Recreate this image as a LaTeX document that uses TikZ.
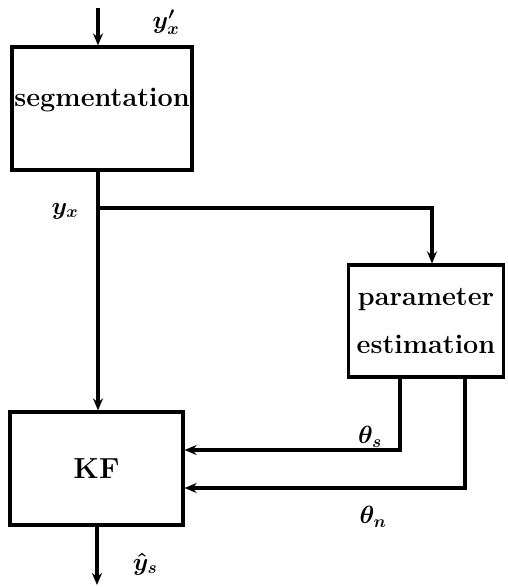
\documentclass[tikz,border=0pt]{standalone}
\usepackage{bm}
\usetikzlibrary{arrows.meta}
\begin{document}
\begin{tikzpicture}[x=1pt,y=-1pt,
  blk/.style={draw,line width=3.2pt,inner sep=0pt,font=\fontsize{27}{48}\selectfont\bfseries,align=center},
  wire/.style={line width=3.2pt},
  arr/.style={wire,-{Stealth[length=12pt,width=10pt]}},
  lbl/.style={font=\fontsize{25}{28}\selectfont,inner sep=0pt}]
\useasboundingbox (0,0) rectangle (507,587);
\node[blk,minimum width=180pt,minimum height=123pt] (seg) at (102,108.5) {};
\node[blk,draw=none] (segt) at (102,100) {segmentation};
\node[blk,minimum width=155pt,minimum height=112pt] (param) at (426,321) {parameter\\estimation};
\node[blk,minimum width=173pt,minimum height=113pt,font=\fontsize{29}{34}\selectfont\bfseries] (kf) at (96.5,468.5) {KF};
\coordinate (in) at (98,8);
\coordinate (out) at (97,585);
\coordinate (br) at (98,208);
\coordinate (brc) at (432,208);
\coordinate (ts) at (400,450);
\coordinate (tn) at (465,488);
\draw[arr] (in) -- (in |- seg.north);
\draw[arr] (br |- seg.south) -- (br |- kf.north);
\draw[arr] (br) -- (brc) -- (brc |- param.north);
\draw[arr] (ts |- param.south) -- (ts) -- (ts -| kf.east);
\draw[arr] (tn |- param.south) -- (tn) -- (tn -| kf.east);
\draw[arr] (kf.south -| out) -- (out);
\node[lbl] (lyin) at (166,22) {$\bm{y'_x}$};
\node[lbl] (lyx) at (65,211) {$\bm{y_x}$};
\node[lbl] (lts) at (370,437) {$\bm{\theta_s}$};
\node[lbl] (ltn) at (373,517) {$\bm{\theta_n}$};
\node[lbl] (lys) at (145,564) {$\bm{\hat{y}_s}$};
\end{tikzpicture}
\end{document}
